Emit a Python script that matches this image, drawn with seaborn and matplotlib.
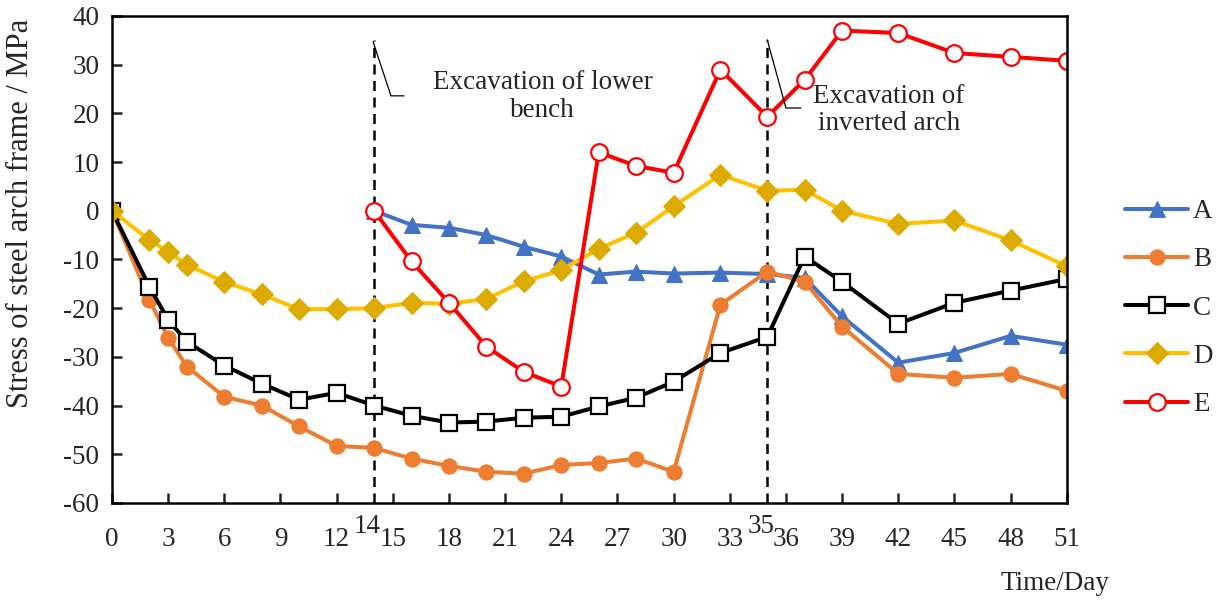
import matplotlib
matplotlib.use('Agg')
import matplotlib.pyplot as plt
import matplotlib.transforms as mtransforms
import seaborn as sns

# days of measurement
days = [0, 2, 3, 4, 6, 8, 10, 12, 14, 16, 18, 20, 22, 24, 26, 28, 30, 32.5, 35, 37, 39, 42, 45, 48, 51]
late_days = days[8:]  # points A and E start at day 14

stress_a = [0, -2.9, -3.5, -5.0, -7.4, -9.4, -13.1, -12.5, -12.9, -12.7, -13.0, -13.8, -21.7, -31.2, -29.2, -25.7, -27.5]
stress_b = [0, -18.3, -26.1, -32.0, -38.2, -40.0, -44.3, -48.3, -48.7, -50.9, -52.4, -53.6, -54.0, -52.2, -51.8,
            -50.9, -53.6, -19.3, -12.5, -14.6, -23.8, -33.5, -34.3, -33.5, -37.0]
stress_c = [0, -15.6, -22.4, -26.9, -31.8, -35.5, -38.8, -37.4, -40.0, -42.1, -43.5, -43.3, -42.5, -42.3, -40.2,
            -38.4, -35.1, -29.2, -25.9, -9.4, -14.6, -23.2, -18.9, -16.4, -14.0]
stress_d = [0, -6.0, -8.4, -11.1, -14.6, -17.2, -20.2, -20.2, -20.0, -18.9, -19.1, -18.1, -14.5, -12.2, -7.8,
            -4.5, 0.9, 7.4, 4.1, 4.3, 0, -2.7, -2.0, -6.1, -11.4]
stress_e = [0, -10.4, -18.9, -27.9, -33.1, -36.1, 12.0, 9.2, 7.8, 29.0, 19.3, 26.9, 37.0, 36.5, 32.4, 31.6, 30.8]

xtick_labels = list(range(0, 52, 3))
stage_days = [14, 35]
stage_texts = ['Excavation of lower\nbench', 'Excavation of\ninverted arch']

sns.set_style('ticks')
plt.rcParams['font.family'] = ['Liberation Serif', 'DejaVu Serif']
fs = 19.5

fig = plt.figure(figsize=(12.21, 6.03), dpi=100)
ax = fig.add_axes([0.0917, 0.166, 0.782, 0.8075])

lw = 2.9
sns.lineplot(x=late_days, y=stress_a, ax=ax, color='#4472C4', lw=lw, marker='^', markersize=11,
             markeredgecolor='#4472C4', label='A')
sns.lineplot(x=days, y=stress_b, ax=ax, color='#ED7D31', lw=lw, marker='o', markersize=11,
             markeredgecolor='#ED7D31', label='B')
sns.lineplot(x=days, y=stress_c, ax=ax, color='black', lw=lw, marker='s', markersize=11,
             markerfacecolor='white', markeredgecolor='black', markeredgewidth=1.6, label='C')
sns.lineplot(x=days, y=stress_d, ax=ax, color='#FFC000', lw=lw, marker='D', markersize=11,
             markerfacecolor='#DDAA00', markeredgecolor='#DDAA00', label='D')
sns.lineplot(x=late_days, y=stress_e, ax=ax, color='#FF0000', lw=lw, marker='o', markersize=12,
             markerfacecolor='white', markeredgecolor='#FF0000', markeredgewidth=1.6, label='E')

# construction stage markers
for d in stage_days:
    ax.plot([d, d], [-60, 35], color='black', lw=1.8, ls=(0, (4, 2.6)), zorder=1)
ax.plot([13.95, 14.9, 15.6], [34.7, 23.6, 23.6], color='black', lw=0.9)
ax.plot([35.0, 36.0, 36.8], [35.1, 21.1, 21.1], color='black', lw=0.9)
ax.text(23.0, 23.4, stage_texts[0], ha='center', va='center', fontsize=fs, linespacing=1.15)
ax.text(41.5, 20.7, stage_texts[1], ha='center', va='center', fontsize=fs, linespacing=1.15)

ax.set_xlim(0, 51)
ax.set_ylim(-60, 40)
ax.set_xticks(xtick_labels)
ax.set_xticklabels([str(t) for t in xtick_labels], fontsize=fs)
ax.set_yticks(range(-60, 41, 10))
ax.set_yticklabels([str(t) for t in range(-60, 41, 10)], fontsize=fs)
ax.tick_params(direction='in', length=7, width=1.8, pad=9)
ax.tick_params(axis='x', pad=17)
for s in ax.spines.values():
    s.set_linewidth(1.8)
    s.set_color('black')

# extra labels for stage days, sitting slightly higher
trans = mtransforms.blended_transform_factory(ax.transData, ax.transAxes)
ax.text(stage_days[0] - 0.35, -0.049, str(stage_days[0]), transform=trans, ha='center', va='center', fontsize=fs)
ax.text(stage_days[1] - 0.3, -0.049, str(stage_days[1]), transform=trans, ha='center', va='center', fontsize=fs)

fig.text(21 / 1221, 1 - 213 / 603, 'Stress of steel arch frame / MPa', rotation=90,
         ha='center', va='center', fontsize=22)
fig.text(1055 / 1221, 1 - 583 / 603, 'Time/Day', ha='center', va='center', fontsize=fs)

ax.legend(loc='center left', bbox_to_anchor=(1.05, 0.40), frameon=False, fontsize=fs,
          handlelength=2.3, handletextpad=0.2, labelspacing=0.86, borderaxespad=0)

fig.savefig('out.png', dpi=100)
